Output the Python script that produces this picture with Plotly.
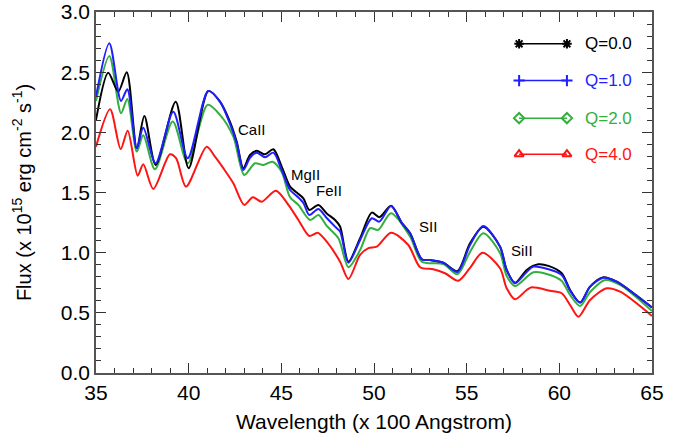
import plotly.graph_objects as go

# ---- data ----
wave_q0 = [35.00, 35.66, 36.20, 36.66, 37.20, 37.61, 38.22, 39.30, 40.00, 41.06, 41.69, 42.23, 42.59, 42.95,
           43.31, 43.67, 44.12, 44.57, 45.02, 45.47, 45.83, 46.19, 46.51, 47.00, 47.45, 47.90, 48.17, 48.62,
           49.25, 49.88, 50.29, 50.92, 51.50, 51.95, 52.58, 53.02, 53.74, 54.50, 55.18, 55.90, 56.80, 57.16,
           57.61, 58.24, 58.87, 59.41, 60.13, 60.58, 61.12, 61.66, 62.38, 63.10, 64.00, 65.00]
flux_q0 = [2.103, 2.496, 2.338, 2.499, 1.868, 2.136, 1.729, 2.255, 1.701, 2.344, 2.255, 2.087, 1.923, 1.702,
           1.812, 1.846, 1.818, 1.859, 1.715, 1.549, 1.499, 1.452, 1.355, 1.396, 1.326, 1.272, 1.217, 0.925,
           1.120, 1.333, 1.295, 1.390, 1.247, 1.161, 0.945, 0.939, 0.917, 0.847, 1.078, 1.216, 1.050, 0.856,
           0.750, 0.856, 0.903, 0.890, 0.829, 0.690, 0.585, 0.718, 0.796, 0.759, 0.663, 0.545]

wave_q1 = [35.00, 35.72, 36.35, 36.69, 37.20, 37.55, 38.22, 39.17, 39.95, 41.06, 41.69, 42.23, 42.59, 42.95,
           43.31, 43.67, 44.12, 44.57, 45.02, 45.47, 45.83, 46.19, 46.51, 47.00, 47.45, 47.90, 48.17, 48.62,
           49.25, 49.88, 50.29, 50.92, 51.50, 51.95, 52.58, 53.02, 53.74, 54.50, 55.18, 55.90, 56.80, 57.16,
           57.61, 58.24, 58.60, 59.41, 60.13, 60.58, 61.12, 61.66, 62.38, 63.10, 64.00, 65.00]
flux_q1 = [2.297, 2.741, 2.261, 2.358, 1.868, 2.039, 1.743, 2.172, 1.785, 2.344, 2.255, 2.070, 1.912, 1.687,
           1.787, 1.831, 1.793, 1.831, 1.687, 1.521, 1.471, 1.413, 1.313, 1.363, 1.288, 1.216, 1.175, 0.917,
           1.106, 1.286, 1.258, 1.388, 1.247, 1.161, 0.945, 0.939, 0.917, 0.840, 1.064, 1.222, 1.050, 0.856,
           0.746, 0.840, 0.884, 0.862, 0.815, 0.684, 0.585, 0.718, 0.792, 0.759, 0.663, 0.545]

wave_q2 = [35.00, 35.72, 36.35, 36.69, 37.20, 37.55, 38.18, 39.14, 39.95, 41.02, 41.69, 42.41, 43.00, 43.58,
           44.03, 44.52, 45.02, 45.47, 45.92, 46.55, 47.00, 47.45, 48.08, 48.62, 49.25, 49.79, 50.23, 50.92,
           51.95, 52.58, 53.74, 54.50, 55.18, 55.90, 56.80, 57.16, 57.61, 58.60, 59.50, 60.13, 60.58, 61.12,
           61.66, 62.47, 63.28, 65.00]
flux_q2 = [2.261, 2.635, 2.159, 2.278, 1.840, 1.976, 1.693, 2.089, 1.743, 2.228, 2.145, 1.964, 1.646, 1.743,
           1.729, 1.756, 1.671, 1.461, 1.397, 1.272, 1.313, 1.222, 1.120, 0.879, 1.022, 1.203, 1.189, 1.328,
           1.133, 0.925, 0.906, 0.820, 1.006, 1.161, 0.998, 0.806, 0.723, 0.837, 0.815, 0.765, 0.648, 0.557,
           0.673, 0.773, 0.732, 0.515]

wave_q4 = [35.00, 35.76, 36.33, 36.71, 37.25, 37.55, 38.09, 38.99, 39.32, 39.86, 40.97, 41.42, 41.87, 42.41,
           43.00, 43.46, 43.94, 44.71, 45.38, 45.92, 46.51, 46.96, 47.45, 48.17, 48.62, 49.25, 49.70, 50.15,
           50.92, 51.85, 52.49, 53.20, 53.83, 54.55, 55.18, 55.85, 56.80, 57.16, 57.61, 58.24, 58.51, 59.50,
           60.13, 60.58, 61.03, 61.66, 62.56, 63.28, 65.00]
flux_q4 = [1.881, 2.192, 1.862, 2.014, 1.640, 1.735, 1.530, 1.818, 1.785, 1.549, 1.881, 1.798, 1.702, 1.577,
           1.397, 1.461, 1.424, 1.515, 1.397, 1.272, 1.139, 1.166, 1.091, 0.925, 0.781, 0.981, 1.037, 1.050,
           1.166, 1.064, 0.879, 0.862, 0.829, 0.767, 0.873, 1.000, 0.870, 0.704, 0.613, 0.690, 0.712, 0.684,
           0.663, 0.565, 0.468, 0.607, 0.704, 0.676, 0.474]

series_names = ["Q=0.0", "Q=1.0", "Q=2.0", "Q=4.0"]
line_labels = ["CaII", "MgII", "FeII", "SII", "SiII"]
line_wave = [43.43, 46.28, 47.56, 52.92, 57.97]
line_flux = [2.02, 1.647, 1.515, 1.22, 1.022]

# ---- styles ----
colors = ["black", "rgb(30,30,255)", "rgb(50,175,60)", "rgb(255,20,20)"]
symbols = ["asterisk-open", "cross-thin-open", "diamond-open", "triangle-up-open"]
FONT = "Liberation Sans, Arial, Helvetica, sans-serif"

fig = go.Figure()
waves = [wave_q0, wave_q1, wave_q2, wave_q4]
fluxes = [flux_q0, flux_q1, flux_q2, flux_q4]
# draw order: red, green, black, blue on top
for i in [3, 2, 0, 1]:
    fig.add_trace(go.Scatter(x=waves[i], y=fluxes[i], mode="lines", name=series_names[i],
                             line=dict(color=colors[i], width=2, shape="spline", smoothing=0.8),
                             showlegend=False, hoverinfo="skip"))

# custom legend (line with markers at both ends) on hidden overlay axes
leg_y = [0.912, 0.810, 0.706, 0.606]
for i in range(4):
    fig.add_trace(go.Scatter(x=[0.761, 0.847], y=[leg_y[i], leg_y[i]], mode="lines+markers",
                             xaxis="x2", yaxis="y2", showlegend=False, hoverinfo="skip",
                             line=dict(color=colors[i], width=1.5),
                             marker=dict(symbol=symbols[i], size=8, color=colors[i],
                                         line=dict(color=colors[i], width=2))))
    fig.add_annotation(x=0.876, y=leg_y[i], xref="paper", yref="paper", text=series_names[i],
                       showarrow=False, xanchor="left", yanchor="middle",
                       font=dict(family=FONT, size=17, color=colors[i]))

for lab, wx, fy in zip(line_labels, line_wave, line_flux):
    fig.add_annotation(x=wx, y=fy, text=lab, showarrow=False,
                       font=dict(family=FONT, size=15, color="black"))

axis_common = dict(showline=True, linecolor="#555555", linewidth=1.5, mirror="allticks",
                   ticks="inside", ticklen=10, tickwidth=1.2, tickcolor="#333333",
                   showgrid=False, zeroline=False, automargin=False,
                   tickfont=dict(family=FONT, size=21, color="black"))
fig.update_layout(
    width=680, height=438,
    margin=dict(l=96, r=28, t=12, b=65),
    paper_bgcolor="white", plot_bgcolor="white",
    font=dict(family=FONT, color="black"),
    xaxis=dict(range=[35, 65], dtick=5, tick0=35,
               title=dict(text="Wavelength (x 100 Angstrom)", font=dict(family=FONT, size=21), standoff=11),
               minor=dict(ticks="inside", dtick=1, ticklen=5, tickcolor="#333333"),
               **axis_common),
    yaxis=dict(range=[0, 3.0], dtick=0.5, tickformat=".1f",
               title=dict(text="Flux (x 10<sup>15</sup> erg cm<sup>-2</sup> s<sup>-1</sup>)",
                          font=dict(family=FONT, size=20), standoff=24),
               minor=dict(ticks="inside", dtick=0.1, ticklen=5, tickcolor="#333333"),
               **axis_common),
    xaxis2=dict(overlaying="x", range=[0, 1], visible=False, fixedrange=True),
    yaxis2=dict(overlaying="y", range=[0, 1], visible=False, fixedrange=True),
    showlegend=False,
)

# remove the default 8px page margin so the 680x438 figure fills the window exactly
fig.write_html("out.html", config={"displayModeBar": False},
               post_script="document.body.style.margin='0';")
